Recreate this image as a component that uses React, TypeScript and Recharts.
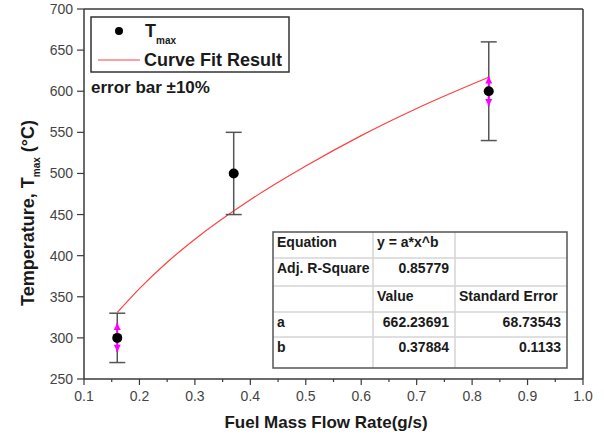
import { ComposedChart, Line, Scatter, XAxis, YAxis, ErrorBar, ReferenceLine } from 'recharts';

// measured maximum temperature vs fuel mass flow rate
const flowRate = [0.16, 0.37, 0.83];
const tMax = [300, 500, 600];
const tMaxErr = [30, 50, 60];

// curve fit result
const fitFlow = [0.16, 0.2, 0.25, 0.3, 0.4, 0.5, 0.6, 0.7, 0.83];
const fitTemp = [331, 360, 392, 420, 468, 509, 546, 579, 617];

// magenta arrow markers
const markFlow = [0.16, 0.83];
const markMid = [300, 600];
const markLow = [283, 582];
const markHigh = [318, 618];

const xTicks = [0.1, 0.15, 0.2, 0.25, 0.3, 0.35, 0.4, 0.45, 0.5, 0.55, 0.6, 0.65, 0.7, 0.75, 0.8, 0.85, 0.9, 0.95, 1.0];
const yTicks = [250, 300, 350, 400, 450, 500, 550, 600, 650, 700];

const tableRows = [
  ['Equation', 'y = a*x^b', ''],
  ['Adj. R-Square', '0.85779', ''],
  ['', 'Value', 'Standard Error'],
  ['a', '662.23691', '68.73543'],
  ['b', '0.37884', '0.1133'],
];
const rightAligned = [
  [false, false, false],
  [false, true, false],
  [false, false, false],
  [false, true, true],
  [false, true, true],
];

const points = flowRate.map((x, i) => ({ x, y: tMax[i], err: tMaxErr[i] }));
const fit = fitFlow.map((x, i) => ({ x, y: fitTemp[i] }));
const marks = markFlow.map((x, i) => ({ x, y: markMid[i], span: [markMid[i] - markLow[i], markHigh[i] - markMid[i]] }));
const marksHigh = markFlow.map((x, i) => ({ x, y: markHigh[i] }));
const marksLow = markFlow.map((x, i) => ({ x, y: markLow[i] }));

const FONT = '"Liberation Sans", Arial, sans-serif';
const AXIS = '#3a3a3a';
const TEXT = '#1a1a1a';

const XTick = (props: any) => {
  const { x, y, payload } = props;
  const major = Math.round(payload.value * 100) % 10 === 0;
  return (
    <g>
      <line x1={x} x2={x} y1={y} y2={y + (major ? 6 : 3)} stroke={AXIS} strokeWidth={1.2} />
      {major && (
        <text x={x} y={y + 22} textAnchor="middle" fontSize={14} fill="#444" fontFamily={FONT}>
          {payload.value.toFixed(1)}
        </text>
      )}
    </g>
  );
};

const colX = [273, 373, 455, 567];
const rowY = [232, 258, 286, 312, 337, 368];

const Overlay = () => (
  <svg width={604} height={439} style={{ position: 'absolute', left: 0, top: 0, pointerEvents: 'none' }} fontFamily={FONT}>
    {/* legend */}
    <rect x={91} y={17} width={198} height={55} fill="#fff" stroke="#333" strokeWidth={1.5} />
    <circle cx={119} cy={31} r={4} fill="#000" />
    <text x={145} y={37} fontSize={18} fontWeight="bold" fill={TEXT}>
      T<tspan fontSize={10} dy={7}>max</tspan>
    </text>
    <line x1={98} x2={140} y1={60} y2={60} stroke="#ff4040" strokeWidth={1.2} />
    <text x={144} y={66} fontSize={18} fontWeight="bold" fill={TEXT}>Curve Fit Result</text>
    <text x={91} y={93} fontSize={17} fontWeight="bold" fill={TEXT}>error bar ±10%</text>

    {/* table */}
    <rect x={colX[0]} y={rowY[0]} width={colX[3] - colX[0]} height={rowY[5] - rowY[0]} fill="#fff" />
    {rowY.slice(1, 5).map((y) => (
      <line key={'r' + y} x1={colX[0]} x2={colX[3]} y1={y} y2={y} stroke="#d4d4d4" strokeWidth={1.5} />
    ))}
    {colX.slice(1, 3).map((x) => (
      <line key={'c' + x} x1={x} x2={x} y1={rowY[0]} y2={rowY[5]} stroke="#d4d4d4" strokeWidth={1.5} />
    ))}
    <rect x={colX[0]} y={rowY[0]} width={colX[3] - colX[0]} height={rowY[5] - rowY[0]} fill="none" stroke="#555" strokeWidth={1.5} />
    {tableRows.map((row, r) =>
      row.map((cell, c) =>
        cell ? (
          <text
            key={r + '-' + c}
            x={rightAligned[r][c] ? colX[c + 1] - 6 : colX[c] + 4}
            y={rowY[r] + 15}
            textAnchor={rightAligned[r][c] ? 'end' : 'start'}
            fontSize={14}
            fontWeight="bold"
            fill={TEXT}
          >
            {cell}
          </text>
        ) : null
      )
    )}

    {/* axis titles */}
    <text x={326} y={428} textAnchor="middle" fontSize={17} fontWeight="bold" fill={TEXT}>
      Fuel Mass Flow Rate(g/s)
    </text>
    <text transform="translate(34,213) rotate(-90)" textAnchor="middle" fontSize={18} fontWeight="bold" fill={TEXT}>
      Temperature, T<tspan fontSize={10} dy={6}>max</tspan>
      <tspan dy={-6}> (°C)</tspan>
    </text>
  </svg>
);

const App = () => (
  <div style={{ position: 'absolute', left: 0, top: 0, width: 604, height: 439, background: '#fff' }}>
    <ComposedChart width={604} height={439} margin={{ top: 9, right: 21, bottom: 0, left: 0 }}>
      <XAxis
        type="number"
        dataKey="x"
        domain={[0.1, 1.0]}
        ticks={xTicks}
        interval={0}
        height={60}
        tickSize={0}
        tickMargin={0}
        tick={(p: any) => <XTick {...p} />}
        axisLine={{ stroke: AXIS, strokeWidth: 1.5 }}
      />
      <YAxis
        type="number"
        dataKey="y"
        domain={[250, 700]}
        ticks={yTicks}
        interval={0}
        width={84}
        tickSize={7}
        tickMargin={4}
        tick={{ fill: '#444', fontSize: 14, fontFamily: FONT }}
        tickLine={{ stroke: AXIS, strokeWidth: 1.2 }}
        axisLine={{ stroke: AXIS, strokeWidth: 1.5 }}
      />
      <ReferenceLine y={700} stroke={AXIS} strokeWidth={1.5} />
      <ReferenceLine x={1.0} stroke={AXIS} strokeWidth={1.5} />
      <Line data={fit} dataKey="y" type="monotone" stroke="#ff4040" strokeWidth={1.2} dot={false} isAnimationActive={false} />
      <Scatter data={points} shape={() => <g />} isAnimationActive={false}>
        <ErrorBar dataKey="err" direction="y" width={8} stroke="#555" strokeWidth={1.5} />
      </Scatter>
      <Scatter data={marks} shape={() => <g />} isAnimationActive={false}>
        <ErrorBar dataKey="span" direction="y" width={0} stroke="#ff00ff" strokeWidth={2} />
      </Scatter>
      <Scatter
        data={marksHigh}
        isAnimationActive={false}
        shape={(p: any) => (
          <polygon points={`${p.cx},${p.cy} ${p.cx - 3.5},${p.cy + 7} ${p.cx + 3.5},${p.cy + 7}`} fill="#ff00ff" />
        )}
      />
      <Scatter
        data={marksLow}
        isAnimationActive={false}
        shape={(p: any) => (
          <polygon points={`${p.cx},${p.cy} ${p.cx - 3.5},${p.cy - 7} ${p.cx + 3.5},${p.cy - 7}`} fill="#ff00ff" />
        )}
      />
      <Scatter
        data={points}
        isAnimationActive={false}
        shape={(p: any) => <circle cx={p.cx} cy={p.cy} r={5} fill="#000" />}
      />
    </ComposedChart>
    <Overlay />
  </div>
);

export default App;
